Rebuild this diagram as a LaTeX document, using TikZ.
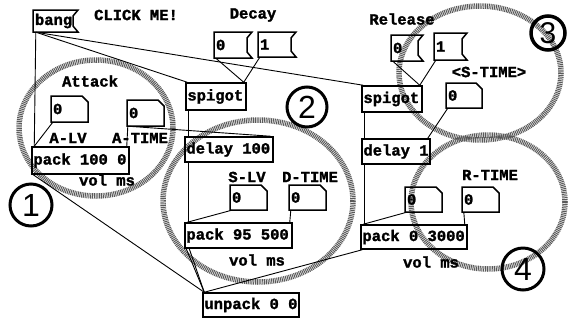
\documentclass[tikz,border=0pt]{standalone}
\usepackage{fontspec}
\setmainfont{Liberation Sans}
\newfontfamily\pdmono[BoldFeatures={FakeBold=1.6}]{Liberation Mono}
\usetikzlibrary{fit}
\tikzset{
  boxline/.style={draw, line width=1.5pt},
  wire/.style={line width=0.9pt},
  txt/.style={font=\pdmono\bfseries\fontsize{15.5}{16}\selectfont, inner sep=0pt},
  halo/.style={draw=black!65, line width=5.5pt, dash pattern=on 1pt off 0.8pt},
  numcirc/.style={circle, draw, line width=3pt, inner sep=0pt, font=\fontsize{32}{32}\selectfont},
}
\newcommand\objbox[6]{%
  \node[fit={(#2,#3) (#4,#5)}, inner sep=0pt, boxline] (#1) {};
  \node[txt, anchor=west] at ([xshift=2pt]#1.west) {#6};
}
\newcommand\numbox[6]{%
  \node[fit={(#2,#3) (#4,#5)}, inner sep=0pt] (#1) {};
  \draw[line width=1.5pt] (#2,#3) -- (#4-6,#3) -- (#4,#3+6) -- (#4,#5) -- (#2,#5) -- cycle;
  \node[txt, anchor=west] at ([xshift=2pt]#1.west) {#6};
}
\newcommand\msgbox[6]{%
  \node[fit={(#2,#3) (#4,#5)}, inner sep=0pt] (#1) {};
  \draw[line width=1.5pt] (#2,#3) -- (#4+5,#3) -- (#4,#3+6) -- (#4,#5-6) -- (#4+5,#5) -- (#2,#5) -- cycle;
  \node[txt, anchor=west] at ([xshift=2pt]#1.west) {#6};
}
\begin{document}
\begin{tikzpicture}[x=1pt, y=-1pt]
\useasboundingbox[fill=white] (0,0) rectangle (569,322);

% stippled grouping circles
\draw[halo] (96,128) ellipse [x radius=77, y radius=68];
\draw[halo] (258,201) ellipse [x radius=95, y radius=81];
\draw[halo] (480,73) ellipse [x radius=81, y radius=67];
\draw[halo] (488,202) ellipse [x radius=77, y radius=67];

% message boxes
\msgbox{bang}{33}{10}{73}{32}{bang}
\msgbox{dzero}{214}{32}{247}{58}{0}
\msgbox{done}{258}{32}{291}{57}{1}
\msgbox{rzero}{391}{35}{418}{61}{0}
\msgbox{rone}{434}{33}{462}{60}{1}

% number boxes
\numbox{alv}{51}{96}{88}{122}{0}
\numbox{atime}{127}{100}{164}{126}{0}
\numbox{slv}{230}{185}{267}{210}{0}
\numbox{dtime}{289}{185}{326}{210}{0}
\numbox{stime}{446}{83}{482}{108}{0}
\numbox{rlv}{405}{187}{442}{212}{0}
\numbox{rtime}{462}{187}{499}{212}{0}

% object boxes
\objbox{pkone}{32}{147}{129}{174}{pack 100 0}
\objbox{spone}{186}{83}{246}{110}{spigot}
\objbox{dlone}{185}{137}{273}{162}{delay 100}
\objbox{pktwo}{185}{223}{292}{248}{pack 95 500}
\objbox{sptwo}{362}{86}{422}{112}{spigot}
\objbox{dltwo}{362}{139}{430}{164}{delay 1}
\objbox{pkthree}{361}{225}{467}{249}{pack 0 3000}
\objbox{unpk}{203}{293}{299}{317}{unpack 0 0}

% labels
\node[txt] (lclick) at (136,15) {CLICK ME!};
\node[txt] (ldecay) at (253,15) {Decay};
\node[txt] (lrel) at (402,19) {Release};
\node[txt] (latt) at (90,81) {Attack};
\node[txt] (lalv) at (68,138) {A-LV};
\node[txt] (latime) at (140,138) {A-TIME};
\node[txt] (lvolone) at (107,180) {vol ms};
\node[txt] (lstime) at (489,72) {<S-TIME>};
\node[txt] (lslv) at (247,177) {S-LV};
\node[txt] (ldtime) at (310,177) {D-TIME};
\node[txt] (lvoltwo) at (257,260) {vol ms};
\node[txt] (lrtime) at (490,175) {R-TIME};
\node[txt] (lvolthree) at (431,262) {vol ms};

% circled numbers
\node[numcirc, minimum size=42pt] (none) at (31,205) {1};
\node[numcirc, minimum size=40pt] (ntwo) at (307,107) {2};
\node[numcirc, minimum size=34pt, line width=3.5pt, font=\fontsize{30}{30}\selectfont] (nthree) at (548,33) {3};
\node[numcirc, minimum size=42pt] (nfour) at (523,269) {4};

% connections
\draw[wire] ([xshift=3pt]bang.south west) -- ([xshift=3pt]pkone.north west);
\draw[wire] ([xshift=3pt]bang.south west) -- ([xshift=2pt]spone.north west);
\draw[wire] ([xshift=3pt]bang.south west) -- ([xshift=2pt]sptwo.north west);
\draw[wire] ([xshift=2pt]dzero.south west) -- ([xshift=-3pt]spone.north east);
\draw[wire] ([xshift=2pt]done.south west) -- ([xshift=-3pt]spone.north east);
\draw[wire] ([xshift=2pt]rzero.south west) -- ([xshift=-3pt]sptwo.north east);
\draw[wire] ([xshift=2pt]rone.south west) -- ([xshift=-3pt]sptwo.north east);
\draw[wire] ([xshift=3pt]spone.south west) -- ([xshift=4pt]dlone.north west);
\draw[wire] ([xshift=4pt]dlone.south west) -- ([xshift=4pt]pktwo.north west);
\draw[wire] ([xshift=3pt]sptwo.south west) -- ([xshift=3pt]dltwo.north west);
\draw[wire] ([xshift=3pt]dltwo.south west) -- ([xshift=4pt]pkthree.north west);
\draw[wire] ([xshift=2pt]alv.south west) -- ([xshift=3pt]pkone.north west);
\draw[wire] ([xshift=1pt]atime.south west) -- ([xshift=-3pt]pkone.north east);
\draw[wire] ([xshift=1pt]atime.south west) -- ([xshift=-3pt]dlone.north east);
\draw[wire] ([xshift=2pt]slv.south west) -- ([xshift=3pt]pktwo.north west);
\draw[wire] ([xshift=2pt]dtime.south west) -- ([xshift=-3pt]pktwo.north east);
\draw[wire] ([xshift=2pt]stime.south west) -- ([xshift=-3pt]dltwo.north east);
\draw[wire] ([xshift=2pt]rlv.south west) -- ([xshift=3pt]pkthree.north west);
\draw[wire] ([xshift=2pt]rtime.south west) -- ([xshift=-3pt]pkthree.north east);
\draw[wire] ([xshift=2pt]pkone.south west) -- ([xshift=2pt]unpk.north west);
\draw[wire] ([xshift=2pt]pktwo.south west) -- ([xshift=2pt]unpk.north west);
\draw[wire] ([xshift=5pt]pktwo.south west) -- ([xshift=2pt]unpk.north west);
\draw[wire] ([xshift=2pt]pkthree.south west) -- ([xshift=2pt]unpk.north west);
\end{tikzpicture}
\end{document}
